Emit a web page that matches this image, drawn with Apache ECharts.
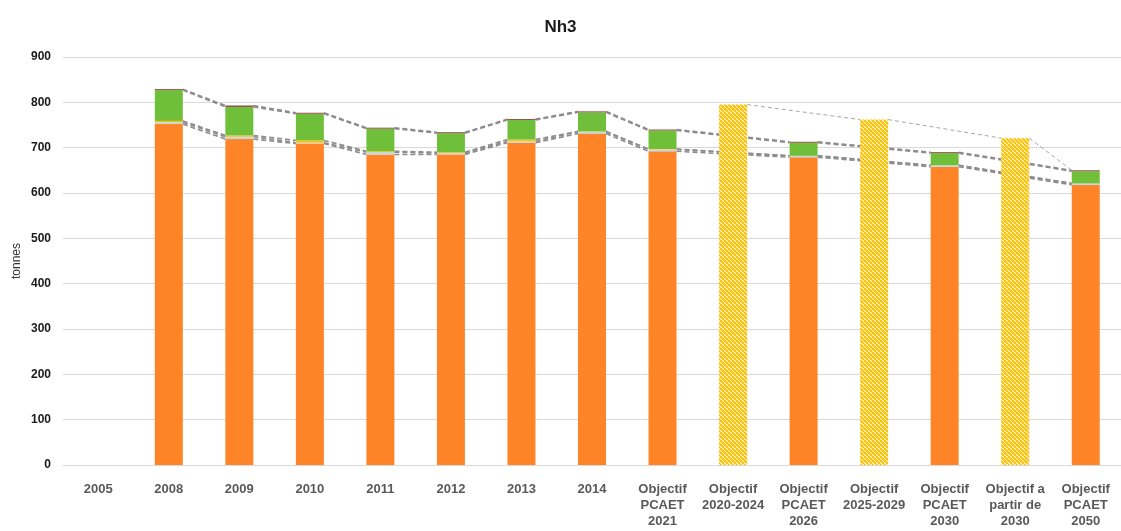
<!DOCTYPE html>
<html>
<head>
<meta charset="utf-8">
<script src="https://cdn.jsdelivr.net/npm/echarts@6/dist/echarts.min.js"></script>
<style>
  html, body { margin: 0; padding: 0; background: #fff; }
  #chart { width: 1121px; height: 531px; }
</style>
</head>
<body>
<div id="chart"></div>
<script>
// categories and values (tonnes)
const categories = ['2005', '2008', '2009', '2010', '2011', '2012', '2013', '2014',
  'Objectif\nPCAET\n2021', 'Objectif\n2020-2024', 'Objectif\nPCAET\n2026',
  'Objectif\n2025-2029', 'Objectif\nPCAET\n2030', 'Objectif a\npartir de\n2030',
  'Objectif\nPCAET\n2050'];
const orange = [null, 752, 719, 709, 685, 685, 711, 731, 692, null, 679, null, 658, null, 618];
const blue   = [null, 4, 5, 2, 5, 3, 3, 4, 4, null, 3, null, 3, null, 3];
const yellow = [null, 3, 3, 5, 2, 2, 4, 1, 1, null, 0, null, 0, null, 0];
const green  = [null, 68, 63, 59, 50, 42, 43, 42, 41, null, 29, null, 27, null, 27];
const brown  = [null, 2, 3, 2, 2, 2, 2, 2, 2, null, 2, null, 2, null, 2];
const objectif = [null, null, null, null, null, null, null, null, null, 795, null, 762, null, 721, null];
const yTicks = [0, 900, 100]; // min, max, interval

const BAR_W = 28;

// hatch pattern for the objective bars
const tile = document.createElement('canvas');
tile.width = 8; tile.height = 8;
const ctx = tile.getContext('2d');
ctx.fillStyle = '#fff';
ctx.fillRect(0, 0, 8, 8);
ctx.strokeStyle = '#FFC000';
ctx.lineWidth = 2.1;
for (let k = -8; k <= 16; k += 4) {
  ctx.beginPath();
  ctx.moveTo(k, 0);
  ctx.lineTo(k + 8, 8);
  ctx.stroke();
}

// series lines between the stacked bars (edge to edge, like Excel)
const stacks = [orange, blue, yellow, green, brown];
const levels = stacks.map((s, n) => s.map((v, i) =>
  v == null ? null : stacks.slice(0, n + 1).reduce((a, b) => a + b[i], 0)));
const pairs = [];
const realIdx = orange.map((v, i) => v == null ? -1 : i).filter(i => i >= 0);
levels.forEach(lv => {
  for (let k = 0; k < realIdx.length - 1; k++) {
    const a = realIdx[k], b = realIdx[k + 1];
    pairs.push([a, lv[a], b, lv[b]]);
  }
});
// thin line over the objective bars, ending at the 2050 total
const objIdx = objectif.map((v, i) => v == null ? -1 : i).filter(i => i >= 0);
const objPairs = [];
for (let k = 0; k < objIdx.length - 1; k++) {
  objPairs.push([objIdx[k], objectif[objIdx[k]], objIdx[k + 1], objectif[objIdx[k + 1]]]);
}
const last = categories.length - 1;
objPairs.push([objIdx[objIdx.length - 1], objectif[objIdx[objIdx.length - 1]], last, levels[4][last]]);

function edgeLines(color, width, dash) {
  return function (params, api) {
    const p1 = api.coord([api.value(0), api.value(1)]);
    const p2 = api.coord([api.value(2), api.value(3)]);
    return {
      type: 'line',
      shape: { x1: p1[0] + BAR_W / 2, y1: p1[1], x2: p2[0] - BAR_W / 2, y2: p2[1] },
      style: { stroke: color, lineWidth: width, lineDash: dash }
    };
  };
}

const font = 'Liberation Sans, Arial, sans-serif';
const chart = echarts.init(document.getElementById('chart'));

function bar(name, data, color) {
  return {
    name: name, type: 'bar', stack: 'a', data: data, barWidth: BAR_W,
    itemStyle: { color: color }, z: 3, silent: true
  };
}

chart.setOption({
  animation: false,
  title: {
    text: 'Nh3', left: 'center', top: 14,
    textStyle: { fontFamily: font, fontSize: 17, fontWeight: 'bold', color: '#1a1a1a' }
  },
  grid: { left: 63, right: 0, top: 57, bottom: 66 },
  xAxis: {
    type: 'category',
    data: categories,
    axisLine: { lineStyle: { color: '#d9d9d9' } },
    axisTick: { show: false },
    axisLabel: {
      interval: 0, margin: 16, lineHeight: 16,
      fontFamily: font, fontSize: 13, fontWeight: 'bold', color: '#595959'
    }
  },
  yAxis: {
    type: 'value',
    min: yTicks[0], max: yTicks[1], interval: yTicks[2],
    name: 'tonnes', nameLocation: 'middle', nameGap: 40, nameMoveOverlap: false,
    nameTextStyle: { fontFamily: font, fontSize: 12, color: '#333' },
    axisLine: { show: false },
    axisTick: { show: false },
    axisLabel: { margin: 12, fontFamily: font, fontSize: 12, fontWeight: 'bold', color: '#1a1a1a' },
    splitLine: { lineStyle: { color: '#d9d9d9' } }
  },
  series: [
    bar('orange', orange, '#FF8427'),
    bar('blue', blue, '#BDD7EE'),
    bar('yellow', yellow, '#FFC000'),
    bar('green', green, '#70BF3A'),
    bar('brown', brown, '#8E3B3B'),
    {
      name: 'objectif', type: 'bar', stack: 'a', data: objectif, barWidth: BAR_W, z: 4,
      itemStyle: { color: { image: tile, repeat: 'repeat' } }, silent: true
    },
    {
      type: 'custom', data: pairs, z: 2, silent: true,
      encode: { x: [0, 2], y: [1, 3] },
      renderItem: edgeLines('#8c8c8c', 1.6, [5, 3])
    },
    {
      type: 'custom', data: objPairs, z: 2, silent: true,
      encode: { x: [0, 2], y: [1, 3] },
      renderItem: edgeLines('#a6a6a6', 1, [4, 3])
    }
  ]
});
</script>
</body>
</html>
